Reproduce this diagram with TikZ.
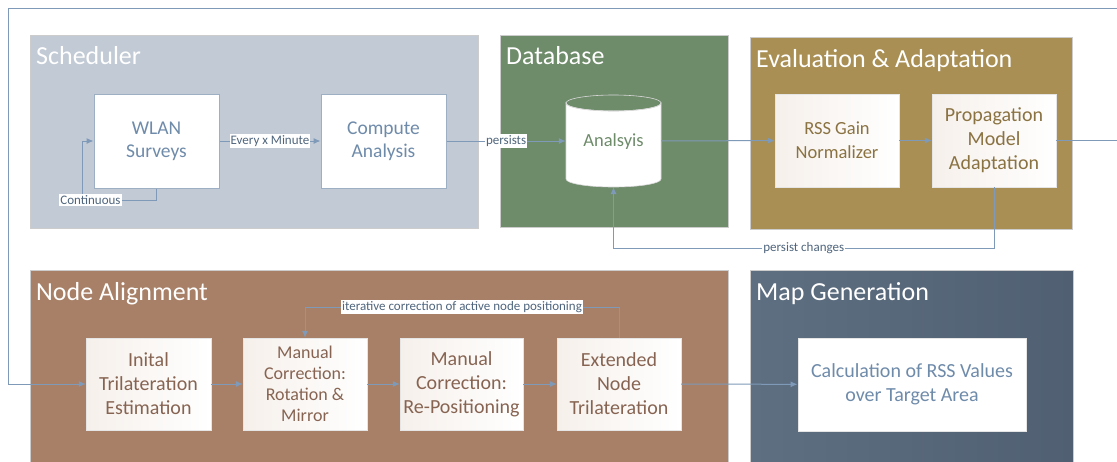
\documentclass[tikz,border=0pt]{standalone}
\usepackage{fontspec}
\setmainfont{Carlito}
\usetikzlibrary{arrows.meta,calc}

\definecolor{schedbg}{HTML}{C1CAD5}
\definecolor{dbbg}{HTML}{6E8B6A}
\definecolor{evalbg}{HTML}{A98F54}
\definecolor{alignbg}{HTML}{A88067}
\definecolor{maptop}{HTML}{5E6F82}
\definecolor{mapbot}{HTML}{506072}
\definecolor{linecol}{HTML}{7F9AB8}
\definecolor{bluetext}{HTML}{6F8BAA}
\definecolor{greentext}{HTML}{6E8B6A}
\definecolor{goldtext}{HTML}{8A7241}
\definecolor{browntext}{HTML}{876452}
\definecolor{labeltext}{HTML}{4F657D}
\definecolor{boxedge}{HTML}{9DAFC3}
\definecolor{warmtint}{HTML}{F6F0EB}

\tikzset{
  panel/.style={draw=white!80!black, line width=0.5pt},
  paneltitle/.style={anchor=base west, text=white, inner sep=0pt,
    font=\fontsize{26}{30}\selectfont},
  stepbox/.style={draw=boxedge, fill=white, line width=1pt, align=center,
    inner sep=2pt, text=bluetext, font=\fontsize{19.5}{23}\selectfont},
  warmbox/.style={draw=white!90!black, line width=0.4pt, align=center,
    inner sep=2pt, left color=warmtint, right color=white,
    font=\fontsize{20}{24}\selectfont},
  conn/.style={draw=linecol, line width=1pt,
    -{Latex[length=7pt,width=6pt]}},
  wirelabel/.style={fill=white, text=labeltext, inner sep=1pt,
    font=\fontsize{13}{15}\selectfont},
}

\begin{document}
\begin{tikzpicture}[x=1pt,y=-1pt]
\clip (0,0) rectangle (1117,461);
\fill[white] (0,0) rectangle (1117,461);

% ---- panels ----
\draw[panel, fill=schedbg] (30,35) rectangle (478,228);
\draw[panel, fill=dbbg]    (500,35) rectangle (728,227);
\draw[panel, fill=evalbg]  (750,37) rectangle (1072,229);
\draw[panel, fill=alignbg] (30,270) rectangle (728,470);
\shade[shading angle=135, left color=maptop, right color=mapbot]
  (750,270) rectangle (1073,470);
\draw[panel] (750,270) rectangle (1073,470);

\node[paneltitle] (tsched) at (36,64)  {Scheduler};
\node[paneltitle] (tdb)    at (506,64) {Database};
\node[paneltitle] (teval)  at (756,67) {Evaluation \& Adaptation};
\node[paneltitle] (talign) at (36,300) {Node Alignment};
\node[paneltitle] (tmap)   at (756,300){Map Generation};

% ---- scheduler ----
\node[stepbox, minimum width=125pt, minimum height=94pt] (wlan)
  at (156.5,141) {WLAN\\Surveys};
\node[stepbox, minimum width=125pt, minimum height=94pt] (compute)
  at (383.5,141) {Compute\\Analysis};

% ---- database cylinder ----
\node[minimum width=95pt, minimum height=92pt, inner sep=0pt] (db)
  at (613.5,141) {};
\filldraw[fill=white, draw=white!85!black, line width=0.6pt]
  (566,103) -- (566,179) arc[start angle=180, end angle=360,
  x radius=47.5pt, y radius=8pt] -- (661,103)
  arc[start angle=0, end angle=-180, x radius=47.5pt, y radius=8pt] -- cycle;
\draw[draw=white!85!black, line width=0.6pt]
  (566,103) arc[start angle=180, end angle=540, x radius=47.5pt, y radius=8pt];
\node[text=greentext, font=\fontsize{18.5}{23}\selectfont] at (613.5,142) {Analsyis};
\coordinate (dbbot) at (613.5,187);

% ---- evaluation ----
\node[warmbox, text=goldtext, minimum width=124pt, minimum height=93pt,
  font=\fontsize{18.5}{24}\selectfont] (rss)
  at (837,140.5) {RSS Gain\\Normalizer};
\node[warmbox, text=goldtext, minimum width=124pt, minimum height=93pt] (prop)
  at (994,140.5) {Propagation\\Model\\Adaptation};

% ---- node alignment ----
\node[warmbox, text=browntext, minimum width=125pt, minimum height=92pt] (init)
  at (148.5,384) {Inital\\Trilateration\\Estimation};
\node[warmbox, text=browntext, minimum width=124pt, minimum height=92pt,
  font=\fontsize{18}{21}\selectfont] (rot)
  at (305,384) {Manual\\Correction:\\Rotation \&\\Mirror};
\node[warmbox, text=browntext, minimum width=123pt, minimum height=92pt] (repos)
  at (461.5,384) {Manual\\Correction:\\Re-Positioning};
\node[warmbox, text=browntext, minimum width=124pt, minimum height=92pt] (ext)
  at (619,384) {Extended\\Node\\Trilateration};

% ---- map generation ----
\node[stepbox, draw=white!90!black, minimum width=228pt, minimum height=93pt,
  font=\fontsize{20}{24}\selectfont] (calc)
  at (912,384.5) {Calculation of RSS Values\\over Target Area};

% ---- connectors ----
\coordinate (c1) at (82,200);
\draw[conn] (wlan.south) |- (c1) |- (wlan.west);
\node[wirelabel] (lcont) at (90.5,200) {Continuous};

\draw[conn] (wlan) -- node[wirelabel] {Every x Minute} (compute);
\draw[conn] (compute) -- node[wirelabel, pos=0.5] {persists} (db);
\draw[conn] (db) -- (rss);
\draw[conn] (rss) -- (prop);

\coordinate (pc2) at (994,248);
\coordinate (pc3) at (613.5,248);
\draw[conn] (prop.south) -- (pc2) -- node[wirelabel] {persist changes} (pc3) -- (dbbot);

% feedback loop round the whole chart, its right leg on the page edge
\coordinate (f1) at (1117,140.5);
\coordinate (f2) at (1117,8);
\coordinate (f3) at (8,8);
\coordinate (f4) at (8,384);
\draw[conn] (prop.east) -- (f1) -- (f2) -- (f3) -- (f4) -- (init.west);

\draw[conn] (init) -- (rot);
\draw[conn] (rot) -- (repos);
\draw[conn] (repos) -- (ext);
\draw[conn] (ext) -- (calc);

\coordinate (i1) at (619,307);
\coordinate (i2) at (305,307);
\draw[conn] (ext.north) -- (i1) -- node[wirelabel] {iterative correction of active node positioning} (i2) -- (rot.north);
\end{tikzpicture}
\end{document}
